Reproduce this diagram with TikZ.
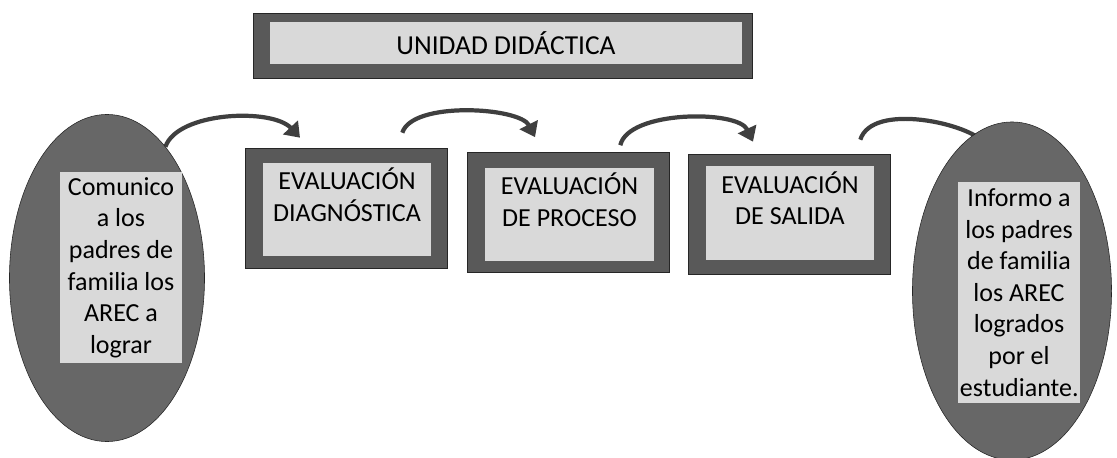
\documentclass[tikz,border=0pt]{standalone}
\usepackage{fontspec}
\setmainfont{Carlito}
\usetikzlibrary{shapes, arrows.meta, positioning, backgrounds}
\definecolor{marcogris}{HTML}{595959}
\definecolor{fondogris}{HTML}{D9D9D9}
\definecolor{elipsegris}{HTML}{676767}
\definecolor{flechagris}{HTML}{3F3F3F}

\begin{document}
\begin{tikzpicture}[x=0.025cm, y=-0.025cm,
  marco/.style={draw=black!85, fill=marcogris, rectangle, minimum width=5.05cm, minimum height=3cm, inner sep=0},
  interior/.style={fill=fondogris, rectangle, minimum width=4.2cm, minimum height=2.325cm, inner sep=0},
  texto/.style={align=flush center, inner sep=0, font=\fontsize{18.5}{22.5}\selectfont},
  globo/.style={draw=black!85, fill=elipsegris, ellipse, inner sep=0},
  cajatexto/.style={fill=fondogris, rectangle, text width=2.95cm, minimum width=3.05cm, align=flush center, inner sep=1.5pt, font=\fontsize{18.5}{22.5}\selectfont},
  flecha/.style={draw=flechagris, line width=3pt, -{Triangle[length=10pt, width=14pt]}}]

\useasboundingbox (0, 0) rectangle (1117, 458);

\node (titulo) at (502.5, 45.5) [marco, minimum width=12.475cm, minimum height=1.625cm] {};
\node (tituloin) at (506, 43) [interior, minimum width=11.8cm, minimum height=1.05cm, font=\fontsize{19.5}{23}\selectfont] {UNIDAD DIDÁCTICA};

\node (izq) at (107, 278) [globo, minimum width=4.875cm, minimum height=8.175cm] {};
\node (izqtxt) at (121, 267.5) [cajatexto, minimum height=4.775cm] {Comunico\\ a los\\ padres de\\ familia los\\ AREC a\\ lograr};

\node (der) at (1012, 291) [globo, minimum width=4.975cm, minimum height=8.45cm] {};
\node (dertxt) at (1019, 292.5) [cajatexto, minimum height=5.525cm] {Informo a\\ los padres\\ de familia\\ los AREC\\ logrados\\ por el\\ estudiante.};

\node (diag) at (346, 208) [marco] {};
\node (diagin) at (347, 209.5) [interior] {};
\node (diagtxt) [texto, below=0.12cm of diagin.north] {EVALUACIÓN\\ DIAGNÓSTICA};

\node (proc) at (568, 212.5) [marco] {};
\node (procin) at (569.5, 214.5) [interior] {};
\node (proctxt) [texto, below=0.12cm of procin.north] {EVALUACIÓN\\ DE PROCESO};

\node (sal) at (789, 214) [marco] {};
\node (salin) at (790, 213) [interior] {};
\node (saltxt) [texto, below=0.12cm of salin.north] {EVALUACIÓN\\ DE SALIDA};

\begin{scope}[on background layer]
\draw[flecha] (izq.66) .. controls +(12, -35) and +(-28, -30) .. ([shift={(-46, -10)}]diag.north);
\draw[flecha] ([shift={(-45, -15)}]diag.north east) .. controls +(10, -32) and +(-15, -30) .. ([shift={(-33, -15)}]proc.north);
\draw[flecha] ([shift={(-49, -7)}]proc.north east) .. controls +(8, -35) and +(-15, -32) .. ([shift={(-36, -12)}]sal.north);
\draw[flecha] ([shift={(-30, -14)}]sal.north east) .. controls +(12, -38) and +(-22, -30) .. ([shift={(-20, 32)}]der.north);
\end{scope}
\end{tikzpicture}
\end{document}
